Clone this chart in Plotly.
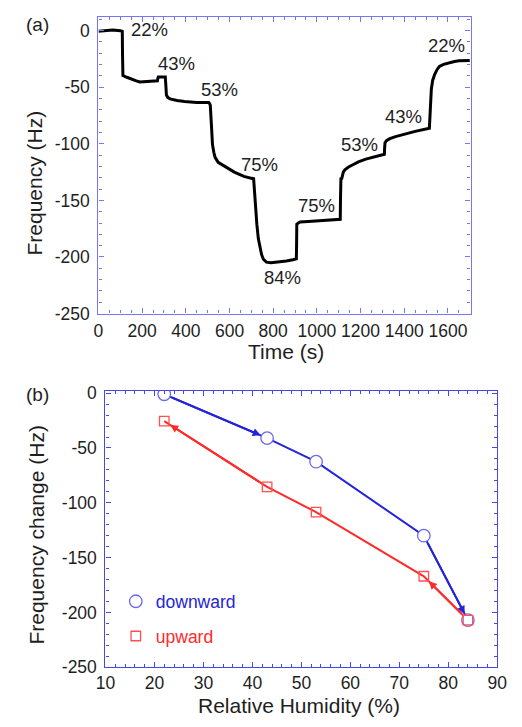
import plotly.graph_objects as go

# ---------- Panel (a): frequency vs time ----------
time_s = [0, 30, 65, 100, 109, 110, 112, 130, 145, 170, 189, 230, 270, 272, 274, 290, 306,
          309, 311, 318, 328, 360, 394, 450, 497, 505, 509, 512, 517, 522, 528, 534, 548,
          577, 622, 666, 690, 707, 710, 714, 718, 725, 732, 740, 747, 755, 769, 790, 828,
          860, 890, 906, 907, 908, 915, 923, 960, 1004, 1050, 1107, 1108, 1110, 1114, 1117,
          1121, 1128, 1145, 1165, 1190, 1224, 1260, 1290, 1309, 1310, 1312, 1320, 1334, 1360,
          1400, 1450, 1515, 1516, 1518, 1521, 1524, 1530, 1539, 1550, 1561, 1580, 1606, 1630,
          1650, 1675, 1700]
freq_hz = [-0.6, 0.0, 0.5, 0.0, -0.6, -20, -39.7, -41.2, -42.6, -44.2, -45.4, -45.0, -44.3,
           -42.0, -40.9, -41.0, -41.0, -50, -57.0, -59.2, -60.3, -61.8, -62.7, -63.4, -63.8,
           -63.5, -64.5, -66.0, -83.0, -100.6, -107.5, -112.0, -116.4, -120.0, -125.0, -128.8,
           -130.0, -130.8, -129.8, -140, -158.0, -171, -184.0, -192, -198.0, -202, -204.6,
           -205.2, -204.6, -203.5, -202.5, -201.7, -190, -171.0, -170.0, -169.0, -168.6,
           -168.2, -167.7, -166.7, -150, -130.8, -130.5, -126.5, -125.0, -123.0, -120.5,
           -118.5, -116.0, -113.5, -111.5, -110.3, -109.2, -104, -99.0, -97.0, -95.4, -93.6,
           -91.4, -89.0, -86.2, -80, -71.9, -62, -51.7, -44, -38.8, -34.5, -31.6, -29.8,
           -28.2, -27.3, -26.7, -26.5, -26.3]

step_labels = ["22%", "43%", "53%", "75%", "84%", "75%", "53%", "43%", "22%"]
label_time = [233, 358, 556, 737, 842, 997, 1195, 1397, 1594]
label_freq = [1.4, -28.8, -51.7, -118, -218, -154.6, -100.6, -76.2, -13]

time_ticks = [0, 200, 400, 600, 800, 1000, 1200, 1400, 1600]
freq_ticks = [0, -50, -100, -150, -200, -250]
freq_tick_text = ["0", "-50", "-100", "-150", "-200", "-250"]

# ---------- Panel (b): frequency change vs RH ----------
rh_down = [22, 43, 53, 75, 84]
df_down = [-1, -41, -62.5, -130, -207]
rh_up = [84, 75, 53, 43, 22]
df_up = [-207, -167, -108.5, -85.5, -25.5]

rh_ticks = [10, 20, 30, 40, 50, 60, 70, 80, 90]

BLUE = "#2424d8"
RED = "#ff2a2a"
FRAME_A = "#7676f2"
FRAME_B = "#4646f0"
FONT = "Liberation Sans, Arial, sans-serif"
TXT = "#1e1e1e"
FS_TICK = 17.5
FS_TITLE = 21
FS_LABEL = 18.5

fig = go.Figure()

fig.add_trace(go.Scatter(x=time_s, y=freq_hz, mode="lines",
                         line=dict(color="black", width=3),
                         xaxis="x", yaxis="y", showlegend=False))

fig.add_trace(go.Scatter(x=rh_down, y=df_down, mode="lines",
                         line=dict(color=BLUE, width=2),
                         xaxis="x2", yaxis="y2", showlegend=False))
fig.add_trace(go.Scatter(x=rh_up, y=df_up, mode="lines",
                         line=dict(color=RED, width=2),
                         xaxis="x2", yaxis="y2", showlegend=False))
fig.add_trace(go.Scatter(x=rh_down, y=df_down, mode="markers", legendgroup="d",
                         name='<span style="color:#2424d8">downward</span>',
                         marker=dict(symbol="circle", size=12.5, color="white",
                                     line=dict(color="#6a6ae8", width=1.3)),
                         xaxis="x2", yaxis="y2"))
fig.add_trace(go.Scatter(x=rh_up, y=df_up, mode="markers", legendgroup="u",
                         name='<span style="color:#ff2a2a">upward</span>',
                         marker=dict(symbol="square", size=9.5, color="rgba(255,255,255,0)",
                                     line=dict(color="#ff5050", width=1.3)),
                         xaxis="x2", yaxis="y2"))

annotations = []
for txt, tx, fy in zip(step_labels, label_time, label_freq):
    annotations.append(dict(x=tx, y=fy, xref="x", yref="y", text=txt, showarrow=False,
                            font=dict(size=FS_LABEL, color=TXT, family=FONT)))

# arrowheads on selected segments
def arrow(xs, ys, i, j, color):
    return dict(x=xs[j], y=ys[j], ax=xs[i], ay=ys[i], xref="x2", yref="y2",
                axref="x2", ayref="y2", text="", showarrow=True, arrowhead=2,
                arrowsize=0.8, arrowwidth=2, arrowcolor=color, standoff=7, startstandoff=7)

annotations += [arrow(rh_down, df_down, 0, 1, BLUE), arrow(rh_down, df_down, 3, 4, BLUE),
                arrow(rh_up, df_up, 0, 1, RED), arrow(rh_up, df_up, 3, 4, RED)]

# axis titles and panel tags
def ptext(x, y, t, size, angle=0, yanchor="middle"):
    return dict(x=x, y=y, xref="paper", yref="paper", text=t, showarrow=False,
                textangle=angle, xanchor="center", yanchor=yanchor,
                font=dict(size=size, color=TXT, family=FONT))

annotations += [
    ptext(29 / 522, 1 - 17 / 727, "(a)", 19),
    ptext(26 / 522, 1 - 180 / 727, "Frequency (Hz)", FS_TITLE, -90),
    ptext(287 / 522, 1 - 352 / 727, "Time (s)", FS_TITLE),
    ptext(29 / 522, 1 - 396 / 727, "(b)", 19),
    ptext(28 / 522, 1 - 540 / 727, "Frequency change (Hz)", FS_TITLE, -90),
    ptext(300 / 522, 1 - 701 / 727, "Relative Humidity (%)", FS_TITLE, yanchor="top"),
]

def axis(rng, vals, text, mdtick, domain, color, anchor, standoff):
    return dict(range=rng, tickmode="array", tickvals=vals, ticktext=text,
                domain=domain, anchor=anchor,
                showline=True, linecolor=color, linewidth=1.3, mirror="allticks",
                ticks="inside", ticklen=5, tickwidth=1, tickcolor=color,
                showgrid=False, zeroline=False, ticklabelstandoff=standoff,
                tickfont=dict(size=FS_TICK, color=TXT, family=FONT),
                minor=dict(dtick=mdtick, tick0=0, ticks="inside", ticklen=3,
                           tickcolor=color, showgrid=False))

fig.update_layout(
    width=522, height=727,
    margin=dict(l=0, r=0, t=0, b=0),
    paper_bgcolor="white", plot_bgcolor="white",
    xaxis=axis([0, 1704], time_ticks, [str(v) for v in time_ticks], 50,
               [92 / 522, 479 / 522], FRAME_A, "y", 1),
    yaxis=axis([-250, 12], freq_ticks, freq_tick_text, 10,
               [1 - 313.3 / 727, 1 - 9.3 / 727], FRAME_A, "x", 4),
    xaxis2=axis([10, 90], rh_ticks, [str(v) for v in rh_ticks], 2,
                [99.3 / 522, 506.7 / 522], FRAME_B, "y2", 0),
    yaxis2=axis([-250, 2], freq_ticks, freq_tick_text, 10,
                [1 - 676 / 727, 1 - 392.7 / 727], FRAME_B, "x2", 4),
    legend=dict(x=110 / 522, y=1 - 590 / 727, xanchor="left", yanchor="top",
                bgcolor="rgba(0,0,0,0)", tracegroupgap=9,
                font=dict(size=FS_TICK, family=FONT), itemwidth=30),
    annotations=annotations,
    showlegend=True,
)

fig.write_html("out.html")
